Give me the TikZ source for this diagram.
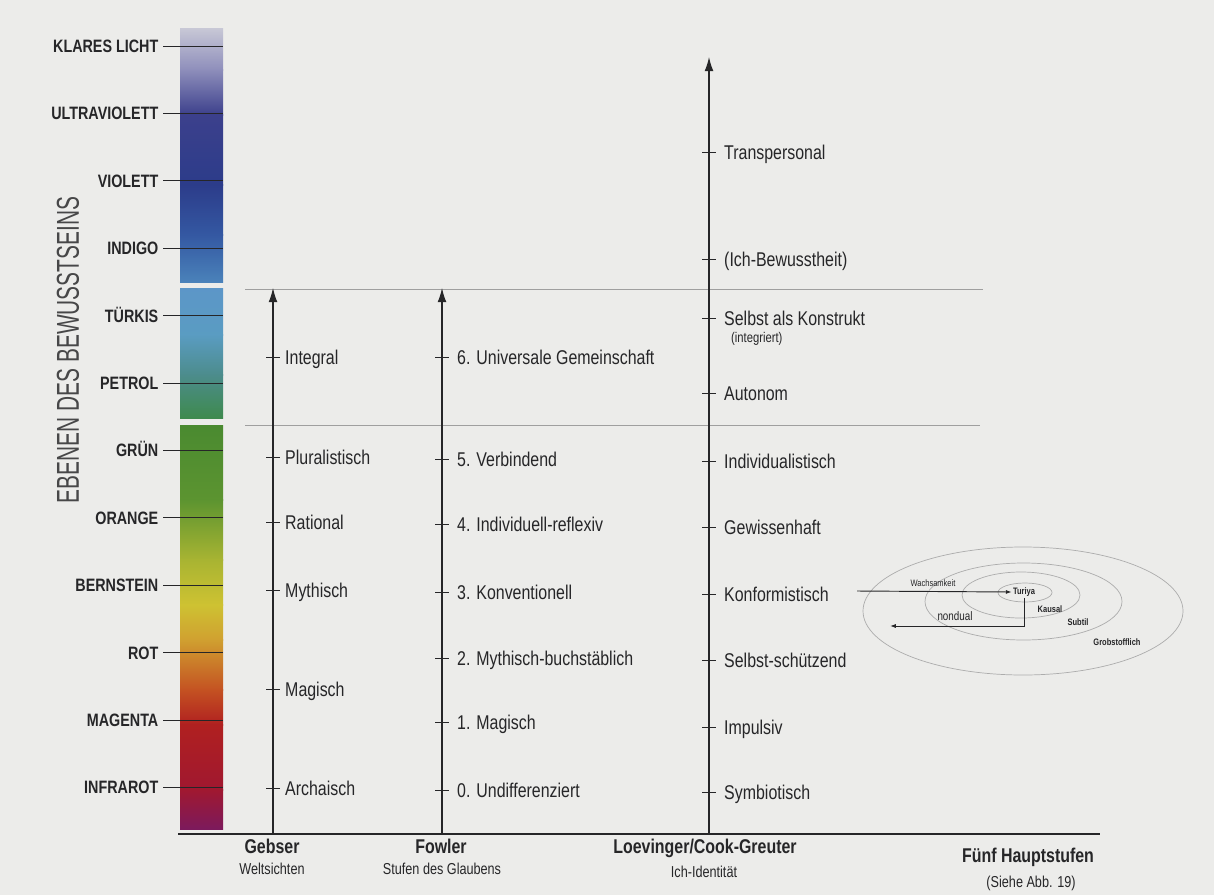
\documentclass[tikz,border=0pt]{standalone}
\usepackage{fontspec}
\setmainfont{Liberation Sans}[FakeStretch=0.8]
\newfontfamily\titlefont{Liberation Sans}[FakeStretch=0.66]
\usetikzlibrary{arrows.meta}

\definecolor{paper}{RGB}{236,236,234}
\definecolor{ink}{RGB}{38,38,40}
% colour stops of the level bar
\definecolor{sA}{HTML}{C8C8D6}\definecolor{sB}{HTML}{8E8EBB}
\definecolor{sC}{HTML}{3C408C}\definecolor{sD}{HTML}{2C3C8A}
\definecolor{sE}{HTML}{3458A2}\definecolor{sF}{HTML}{4A82BA}
\definecolor{sG}{HTML}{5C96C8}\definecolor{sH}{HTML}{5A9CC2}
\definecolor{sI}{HTML}{4C8C8C}\definecolor{sJ}{HTML}{3E8A4E}
\definecolor{sK}{HTML}{4A8A30}\definecolor{sL}{HTML}{5C9430}
\definecolor{sM}{HTML}{A8B432}\definecolor{sN}{HTML}{CEC232}
\definecolor{sO}{HTML}{D0A030}\definecolor{sP}{HTML}{C45222}
\definecolor{sQ}{HTML}{B02020}\definecolor{sR}{HTML}{A01830}
\definecolor{sS}{HTML}{7C1A5C}

\tikzset{
  lvl/.style={anchor=east, inner xsep=0pt, outer xsep=4pt, text=ink,
    font=\bfseries\fontsize{15.3}{17}\selectfont, text height=11pt, text depth=0pt},
  stage/.style={anchor=west, inner sep=0pt, text=ink,
    font=\fontsize{17}{19}\selectfont, text height=12pt, text depth=0pt},
  head/.style={text=ink, font=\bfseries\fontsize{17}{19}\selectfont},
  sub/.style={text=ink, font=\fontsize{13.5}{15}\selectfont},
  axis/.style={line width=1pt, draw=ink, -{Latex[length=12pt,width=7.5pt]}},
  tck/.style={line width=0.8pt, draw=ink},
  band/.style={draw=gray!75, line width=0.8pt},
  ring/.style={draw=gray!65, line width=0.6pt},
  tiny/.style={text=ink, inner sep=1pt, font=\bfseries\fontsize{8}{9}\selectfont},
  small arrow/.style={line width=0.8pt, draw=ink, -{Latex[length=5pt,width=3.5pt]}}
}

\begin{document}
\begin{tikzpicture}[x=0.03cm, y=-0.03cm]
  \fill[paper] (0,0) rectangle (1214,895);
  \useasboundingbox (0,0) rectangle (1214,895);

  % colour bar, three blocks
  \foreach \ya/\yb/\ca/\cb in {28/70/sA/sB, 69.5/115/sB/sC, 114.5/185/sC/sD,
      184.5/235/sD/sE, 234.5/282/sE/sF,
      288/335/sG/sH, 334.5/375/sH/sI, 374.5/418/sI/sJ,
      425/500/sK/sL, 499.5/560/sL/sM, 559.5/605/sM/sN, 604.5/640/sN/sO,
      639.5/690/sO/sP, 689.5/725/sP/sQ, 724.5/790/sQ/sR, 789.5/829/sR/sS}
    \shade[top color=\ca, bottom color=\cb] (180,\ya) rectangle (223,\yb);
  \coordinate (barR) at (223,0);

  \node[rotate=90, text=ink!85, font=\titlefont\fontsize{27}{27}\selectfont]
    (title) at (68,350) {EBENEN DES BEWUSSTSEINS};

  \foreach \t [count=\i from 0] in {KLARES LICHT, ULTRAVIOLETT, VIOLETT, INDIGO,
      TÜRKIS, PETROL, GRÜN, ORANGE, BERNSTEIN, ROT, MAGENTA, INFRAROT} {
    \node[lvl] (lv\i) at (163,{46+67.4*\i}) {\t};
    \draw[tck] (lv\i.east) -- (lv\i.east -| barR);
  }

  % bands across the columns
  \coordinate (bandA) at (245,289);
  \coordinate (bandB) at (245,425);
  \draw[band] (bandA) -- ++(738,0);
  \draw[band] (bandB) -- ++(735,0);

  % base line and axes
  \coordinate (base0) at (178,834);
  \coordinate (base1) at (1100,834);
  \draw[line width=2.4pt, draw=ink] (base0) -- (base1);
  \coordinate (gebB) at (273,834);  \coordinate (gebT) at (273,288);
  \coordinate (fowB) at (442,834);  \coordinate (fowT) at (442,288);
  \coordinate (loeB) at (709,834);  \coordinate (loeT) at (709,57);
  \draw[axis] (gebB) -- (gebT);
  \draw[axis] (fowB) -- (fowT);
  \draw[axis] (loeB) -- (loeT);

  % Gebser
  \foreach \y/\t [count=\i] in {357/Integral, 457/Pluralistisch, 522/Rational,
      590/Mythisch, 689/Magisch, 788/Archaisch} {
    \draw[tck] (266,\y) -- (280,\y);
    \node[stage] (geb\i) at (285,\y) {\t};
  }

  % Fowler
  \foreach \y/\t [count=\i] in {357/6. Universale Gemeinschaft, 459/5. Verbindend,
      524/4. Individuell-reflexiv, 592/3. Konventionell,
      658/2. Mythisch-buchstäblich, 722/1. Magisch, 790/0. Undifferenziert} {
    \draw[tck] (435,\y) -- (449,\y);
    \node[stage] (fow\i) at (457,\y) {\t};
  }

  % Loevinger / Cook-Greuter
  \foreach \y/\t [count=\i] in {152/Transpersonal, 259/(Ich-Bewusstheit),
      318/Selbst als Konstrukt, 393/Autonom, 461/Individualistisch,
      527/Gewissenhaft, 594/Konformistisch, 660/Selbst-schützend,
      727/Impulsiv, 792/Symbiotisch} {
    \draw[tck] (702,\y) -- (716,\y);
    \node[stage] (loe\i) at (724,\y) {\t};
  }
  \node[anchor=west, inner sep=0pt, text=ink, font=\fontsize{12}{14}\selectfont]
    (integ) at (731,339) {(integriert)};

  % column heads
  \node[head] (hGeb) at (272,846) {Gebser};
  \node[sub]  (sGeb) at (272,869) {Weltsichten};
  \node[head] (hFow) at (441,846) {Fowler};
  \node[sub]  (sFow) at (442,869) {Stufen des Glaubens};
  \node[head] (hLoe) at (705,848) {Loevinger/Cook-Greuter};
  \node[sub]  (sLoe) at (704,872) {Ich-Identität};
  \node[head] (hFue) at (1028,857) {Fünf Hauptstufen};
  \node[sub]  (sFue) at (1031,883) {(Siehe Abb. 19)};

  % states of consciousness
  \draw[ring] (1023,611) ellipse [x radius=160, y radius=64];
  \draw[ring] (1023.5,601.5) ellipse [x radius=98.5, y radius=38.5];
  \draw[ring] (1021,595) ellipse [x radius=59, y radius=23];
  \draw[ring] (1025,592.5) ellipse [x radius=27, y radius=9.5];
  \node[tiny] (turiya) at (1024,592) {Turiya};
  \node[tiny] (kausal) at (1050,609) {Kausal};
  \node[tiny] (subtil) at (1078,622) {Subtil};
  \node[tiny] (grob)   at (1117,642) {Grobstofflich};
  \node[text=ink, inner sep=1pt, font=\fontsize{8}{9}\selectfont]
    (wach) at (933,583) {Wachsamkeit};
  \node[text=ink, inner sep=1pt, font=\fontsize{10.5}{12}\selectfont]
    (nond) at (955,616) {nondual};
  \coordinate (win)  at (857,591);
  \coordinate (nout) at (890,626);
  \draw[small arrow] (win) -- (turiya.west);
  \draw[small arrow] (turiya.south) |- (nout);
\end{tikzpicture}
\end{document}
